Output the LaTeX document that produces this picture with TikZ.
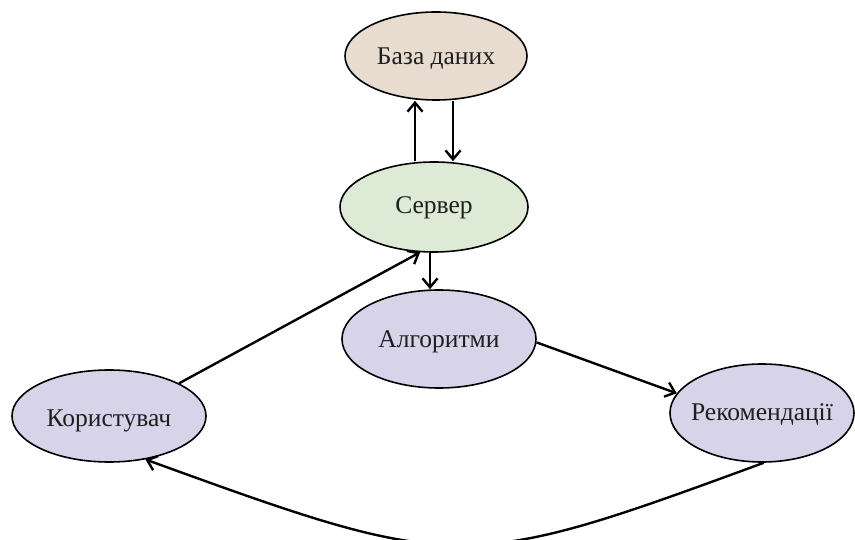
\documentclass[tikz,border=0pt]{standalone}
\usepackage{fontspec}
\setmainfont{Liberation Serif}
\usetikzlibrary{shapes.geometric,arrows.meta}
\definecolor{dbfill}{HTML}{E8DBCF}
\definecolor{srvfill}{HTML}{DDEAD5}
\definecolor{lavfill}{HTML}{D7D3E9}
\definecolor{ink}{HTML}{1E1E1E}
% label of no size, baseline set below the centre, so each ellipse keeps its set size
\newcommand\bloblabel[2][9pt]{\makebox[0pt]{\raisebox{-#1}[0pt][0pt]{#2}}}
\tikzset{
  blob/.style={ellipse, draw=black, line width=1.6pt, inner sep=0pt,
    text=ink, font=\fontsize{25.5}{28}\selectfont},
  arr/.style={line width=2.4pt, -{Straight Barb[length=9pt,width=15pt,line width=2.4pt]}},
}
\begin{document}
\begin{tikzpicture}[x=1pt,y=-1pt]
\useasboundingbox (0,0) rectangle (855,540);
\node[blob, fill=dbfill, minimum width=182, minimum height=88] (db) at (436,56) {\bloblabel{База даних}};
\node[blob, fill=srvfill, minimum width=188, minimum height=90] (srv) at (434,207) {\bloblabel[7pt]{Сервер}};
\node[blob, fill=lavfill, minimum width=194, minimum height=98] (alg) at (439,339) {\bloblabel{Алгоритми}};
\node[blob, fill=lavfill, minimum width=194, minimum height=92] (usr) at (109,416) {\bloblabel[10pt]{Користувач}};
\node[blob, fill=lavfill, minimum width=184, minimum height=98] (rec) at (762,413) {\bloblabel[8pt]{Рекомендації}};

% server <-> database
\draw[arr] ([xshift=-19pt]srv.north) coordinate (up1) -- (up1 |- db.south);
\draw[arr] ([xshift=17pt]db.south) coordinate (dn1) -- (dn1 |- srv.north);
% server -> algorithms
\draw[arr] ([xshift=-4pt]srv.south) coordinate (dn2) -- (dn2 |- alg.north);
% user -> server
\draw[arr] (usr.25) -- (srv.253);
% algorithms -> recommendations
\draw[arr] (alg.-2) -- (rec.167);
% recommendations -> user
\draw[arr] (rec.272) .. controls (464,573) and (458,573) .. (usr.310);
\end{tikzpicture}
\end{document}
